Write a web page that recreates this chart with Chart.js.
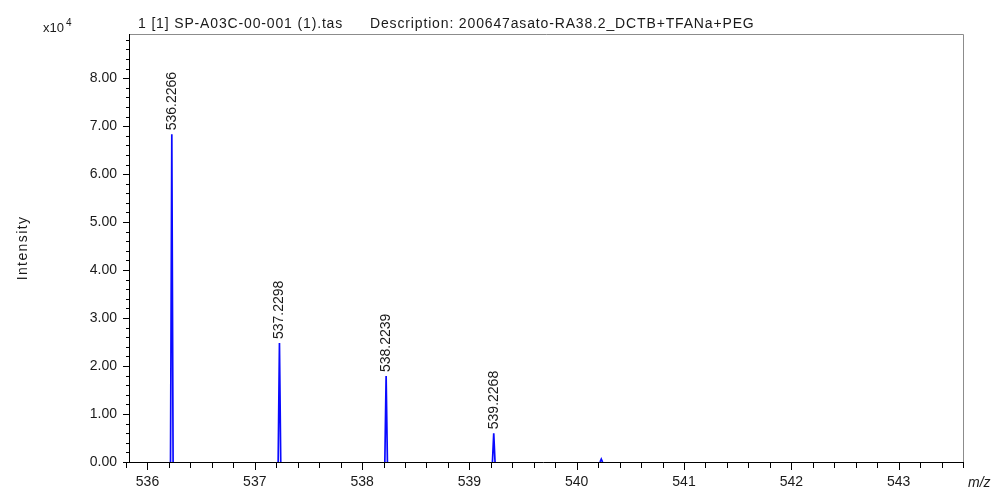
<!DOCTYPE html>
<html>
<head>
<meta charset="utf-8">
<title>SP-A03C-00-001 (1).tas</title>
<script src="https://cdn.jsdelivr.net/npm/chart.js@4.4.1/dist/chart.umd.min.js"></script>
<style>
  html, body { margin: 0; padding: 0; background: #fff; }
  #wrap { position: relative; width: 1000px; height: 492px; }
</style>
</head>
<body>
<div id="wrap"><canvas id="spectrum"></canvas></div>
<script>
// centroid m/z of each isotope peak
const peakMz = [536.2266, 537.2298, 538.2239, 539.2268, 540.2290];
// peak intensity, in units of 10^4 counts
const peakIntensity = [6.83, 2.48, 1.79, 0.60, 0.06];
// peaks that get an m/z label above them
const peakLabelled = [true, true, true, true, false];

const mzRange = [535.837, 543.6];
const intensityRange = [0, 8.92];

const titleFile = '1 [1] SP-A03C-00-001 (1).tas';
const titleDesc = 'Description: 200647asato-RA38.2_DCTB+TFANa+PEG';
const yTitle = 'Intensity';
const xTitle = 'm/z';
const yExponent = '4';

const FONT = '"Liberation Sans", Arial, sans-serif';
const TEXT = '#1a1a1a';
const PEAK = '#0a0aff';
const PEAK_HALF_WIDTH = 0.012;

const isWhole = v => Math.abs(v - Math.round(v)) < 1e-6;

// every peak is a narrow triangle; a null point breaks the line between peaks
const profile = [];
peakMz.forEach((mz, i) => {
    profile.push({ x: mz - PEAK_HALF_WIDTH, y: 0 });
    profile.push({ x: mz, y: peakIntensity[i] });
    profile.push({ x: mz + PEAK_HALF_WIDTH, y: 0 });
    profile.push({ x: mz + PEAK_HALF_WIDTH, y: null });
});

// plot frame, tick marks and all the text around the plot
const frame = {
    id: 'frame',
    afterDatasetsDraw(chart) {
        const { ctx, chartArea: a, scales: { x, y } } = chart;
        ctx.save();

        // top and right edges of the box
        ctx.lineWidth = 1;
        ctx.strokeStyle = '#8c8c8c';
        ctx.beginPath();
        ctx.moveTo(a.left, a.top + 0.5);
        ctx.lineTo(a.right + 0.5, a.top + 0.5);
        ctx.lineTo(a.right + 0.5, a.bottom);
        ctx.stroke();

        // axes
        ctx.strokeStyle = '#000';
        ctx.beginPath();
        ctx.moveTo(a.left - 0.5, a.top);
        ctx.lineTo(a.left - 0.5, a.bottom + 1);
        ctx.moveTo(a.left - 7, a.bottom + 0.5);
        ctx.lineTo(a.right + 1, a.bottom + 0.5);

        // ticks every 0.2, longer ones on whole numbers
        for (let k = Math.ceil((x.min - 0.06) * 5); k <= Math.floor(x.max * 5 + 1e-6); k++) {
            const px = Math.round(x.getPixelForValue(k / 5)) + 0.5;
            const len = k % 5 === 0 ? 8 : 6;
            ctx.moveTo(px, a.bottom);
            ctx.lineTo(px, a.bottom + len);
        }
        for (let k = Math.ceil(y.min * 5); k <= Math.floor(y.max * 5 + 1e-6); k++) {
            const py = Math.round(y.getPixelForValue(k / 5)) + 0.5;
            const len = k % 5 === 0 ? 7 : 4;
            ctx.moveTo(a.left, py);
            ctx.lineTo(a.left - len, py);
        }
        ctx.stroke();

        ctx.fillStyle = TEXT;

        // m/z labels standing on the peaks
        ctx.font = '14px ' + FONT;
        ctx.textAlign = 'left';
        ctx.textBaseline = 'middle';
        peakMz.forEach((mz, i) => {
            if (!peakLabelled[i]) return;
            ctx.save();
            ctx.translate(x.getPixelForValue(mz), y.getPixelForValue(peakIntensity[i]) - 4);
            ctx.rotate(-Math.PI / 2);
            ctx.fillText(mz.toFixed(4), 0, 0);
            ctx.restore();
        });

        // header line
        ctx.textBaseline = 'alphabetic';
        ctx.letterSpacing = '0.85px';
        ctx.fillText(titleFile, 138, 28);
        ctx.fillText(titleDesc, 370, 28);

        // axis title on the left
        ctx.save();
        ctx.letterSpacing = '1.4px';
        ctx.translate(27, a.top + (a.bottom - a.top) / 2);
        ctx.rotate(-Math.PI / 2);
        ctx.textAlign = 'center';
        ctx.fillText(yTitle, 0, 0);
        ctx.restore();
        ctx.letterSpacing = '0px';

        // x10^4 multiplier
        ctx.font = '13px ' + FONT;
        ctx.fillText('x10', 43, 32);
        ctx.font = '10px ' + FONT;
        ctx.fillText(yExponent, 66, 26);

        // x axis unit
        ctx.font = 'italic 14px ' + FONT;
        ctx.fillText(xTitle, 968, 487);

        ctx.restore();
    }
};

const ctx = document.getElementById('spectrum').getContext('2d');
const spectrumChart = new Chart(ctx, {
    type: 'line',
    data: {
        datasets: [{
            data: profile,
            borderColor: PEAK,
            backgroundColor: PEAK,
            borderWidth: 1.7,
            pointRadius: 0,
            tension: 0,
            fill: false,
            spanGaps: false
        }]
    },
    options: {
        responsive: true,
        maintainAspectRatio: false,
        animation: false,
        layout: { padding: { top: 34, right: 37, left: 0, bottom: 0 } },
        plugins: {
            legend: { display: false },
            tooltip: { enabled: false }
        },
        scales: {
            x: {
                type: 'linear',
                min: mzRange[0],
                max: mzRange[1],
                afterFit: s => { s.height = 30; },
                grid: { display: false, drawTicks: false },
                border: { display: false },
                ticks: {
                    stepSize: 0.2,
                    includeBounds: false,
                    autoSkip: false,
                    maxRotation: 0,
                    padding: 12,
                    color: TEXT,
                    font: { family: FONT, size: 14 },
                    callback: v => isWhole(v) ? String(Math.round(v)) : ''
                }
            },
            y: {
                min: intensityRange[0],
                max: intensityRange[1],
                afterFit: s => { s.width = 130; },
                grid: { display: false, drawTicks: false },
                border: { display: false },
                ticks: {
                    stepSize: 0.2,
                    autoSkip: false,
                    padding: 13,
                    color: TEXT,
                    font: { family: FONT, size: 14 },
                    callback: v => isWhole(v) ? v.toFixed(2) : ''
                }
            }
        }
    },
    plugins: [frame]
});
</script>
</body>
</html>
